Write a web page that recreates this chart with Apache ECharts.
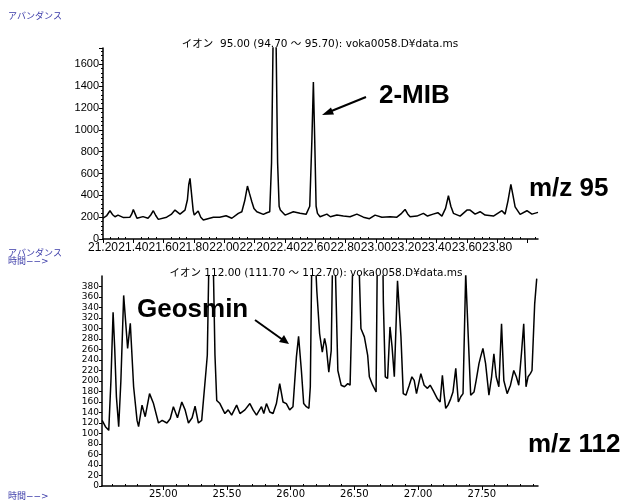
<!DOCTYPE html>
<html><head><meta charset="utf-8">
<script src="https://cdn.jsdelivr.net/npm/echarts@6/dist/echarts.min.js"></script>
<style>html,body{margin:0;padding:0;background:#fff}#c{width:630px;height:504px}</style>
</head><body><div id="c"></div>
<script>
// ---- m/z 95 chromatogram (top) ----
var topTime = [21.200,21.225,21.246,21.262,21.279,21.299,21.332,21.378,21.390,21.400,21.412,21.424,21.464,21.497,21.515,21.532,21.548,21.565,21.620,21.650,
21.675,21.708,21.741,21.757,21.766,21.774,21.783,21.795,21.802,21.828,21.845,21.862,21.928,21.970,22.012,22.050,22.093,22.116,22.135,22.153,
22.166,22.182,22.196,22.215,22.258,22.281,22.300,22.312,22.322,22.332,22.342,22.352,22.362,22.370,22.401,22.456,22.500,22.540,22.564,22.578,
22.588,22.597,22.606,22.615,22.632,22.677,22.700,22.743,22.786,22.830,22.875,22.918,22.958,22.995,23.040,23.094,23.139,23.170,23.193,23.210,
23.226,23.271,23.314,23.341,23.378,23.409,23.436,23.460,23.479,23.495,23.512,23.556,23.601,23.622,23.655,23.688,23.721,23.776,23.832,23.853,
23.872,23.891,23.905,23.919,23.952,23.997,24.030,24.070];
var topAbund = [190,215,259,225,204,219,198,200,230,271,230,190,205,190,220,259,215,180,200,225,
265,228,265,360,500,555,430,260,219,256,200,174,200,200,213,190,235,250,350,485,
420,341,280,250,226,241,250,700,1800,2600,1800,700,300,265,219,250,235,226,300,900,
1438,900,300,235,204,228,204,219,210,204,228,200,186,219,200,204,200,235,271,230,
204,210,235,210,228,241,210,280,396,300,235,210,265,265,228,250,219,210,259,228,
350,500,400,295,226,259,228,244];

// ---- m/z 112 chromatogram (bottom) ----
var botTime = [24.521,24.547,24.573,24.590,24.607,24.620,24.633,24.651,24.668,24.690,24.721,24.742,24.768,24.795,24.807,24.834,24.859,24.893,24.924,24.963,
24.992,25.029,25.055,25.080,25.112,25.146,25.172,25.198,25.227,25.250,25.276,25.302,25.336,25.346,25.360,25.375,25.391,25.406,25.420,25.445,
25.484,25.510,25.537,25.576,25.602,25.641,25.680,25.705,25.732,25.771,25.789,25.810,25.836,25.862,25.888,25.914,25.940,25.966,25.992,26.018,
26.045,26.062,26.084,26.102,26.123,26.143,26.154,26.165,26.174,26.185,26.205,26.227,26.248,26.266,26.279,26.299,26.318,26.328,26.338,26.350,
26.370,26.396,26.422,26.448,26.466,26.477,26.492,26.523,26.539,26.551,26.578,26.604,26.617,26.643,26.670,26.680,26.691,26.703,26.715,26.727,
26.742,26.760,26.779,26.795,26.813,26.838,26.865,26.883,26.904,26.930,26.951,26.969,26.987,27.021,27.047,27.073,27.094,27.117,27.151,27.172,
27.190,27.203,27.216,27.234,27.255,27.273,27.295,27.315,27.334,27.352,27.373,27.393,27.412,27.438,27.455,27.477,27.490,27.508,27.529,27.555,
27.576,27.594,27.612,27.633,27.654,27.672,27.698,27.724,27.750,27.770,27.789,27.810,27.828,27.846,27.862,27.880,27.893,27.914,27.930];
var botAbund = [125,113,106,200,331,260,170,113,200,363,262,310,189,125,113,154,132,176,157,120,
125,120,128,151,130,160,145,120,130,152,120,125,220,249,450,600,450,250,163,157,
138,145,135,154,138,145,157,145,135,151,138,157,141,138,157,195,160,157,145,151,
246,285,220,157,151,148,189,420,550,480,372,290,255,281,266,217,258,420,550,420,
220,192,189,195,192,300,500,500,400,300,284,249,208,192,179,450,600,450,600,350,
208,205,303,266,208,391,284,176,173,192,208,201,176,214,192,186,192,182,166,160,
211,176,148,154,166,179,224,160,170,176,405,284,173,179,201,233,246,262,233,173,
208,252,208,189,309,201,176,192,220,208,192,252,309,189,208,214,220,347,395];

// ---- axis tick labels ----
var topXLabels = [21.2,21.4,21.6,21.8,22.0,22.2,22.4,22.6,22.8,23.0,23.2,23.4,23.6,23.8];
var topXMajor = [21.2,21.4,21.6,21.8,22.0,22.2,22.4,22.6,22.8,23.0,23.2,23.4,23.6,23.8,24.0];
var topXMinor = [21.25,21.3,21.35,21.45,21.5,21.55,21.65,21.7,21.75,21.85,21.9,21.95,22.05,22.1,22.15,22.25,22.3,22.35,22.45,22.5,22.55,22.65,22.7,22.75,22.85,22.9,22.95,23.05,23.1,23.15,23.25,23.3,23.35,23.45,23.5,23.55,23.65,23.7,23.75,23.85,23.9,23.95,24.05];
var botXLabels = [25.0,25.5,26.0,26.5,27.0,27.5];
var botXMinor = [24.6,24.7,24.8,24.9,25.1,25.2,25.3,25.4,25.6,25.7,25.8,25.9,26.1,26.2,26.3,26.4,26.6,26.7,26.8,26.9,27.1,27.2,27.3,27.4,27.6,27.7,27.8,27.9];

function zip(a,b){var r=[];for(var i=0;i<a.length;i++)r.push([a[i],b[i]]);return r;}

var chart = echarts.init(document.getElementById('c'), null, {renderer:'canvas'});
var axisCol = '#000';
var blue = '#3a3aa8';
var jp = 'DejaVu Sans, Noto Sans CJK JP, sans-serif';

function xMain(grid,min,max,labels,major,fs,ff){
  return {type:'value',gridIndex:grid,min:min,max:max,
    axisLine:{onZero:false,lineStyle:{color:axisCol,width:1.5}},
    axisTick:{customValues:major,length:4,lineStyle:{color:axisCol,width:1}},
    axisLabel:{customValues:labels,color:'#000',fontSize:fs,fontFamily:ff,margin:3,
      formatter:function(v){return v.toFixed(2);}},
    splitLine:{show:false}};
}
function xMinor(grid,min,max,minor){
  return {type:'value',gridIndex:grid,min:min,max:max,
    axisLine:{show:false},
    axisTick:{customValues:minor,length:2,lineStyle:{color:axisCol,width:1}},
    axisLabel:{show:false},splitLine:{show:false}};
}
function plain(v){return String(v);}

var option = {
  animation:false,
  backgroundColor:'#fff',
  grid:[
    {left:103,top:48,width:435,height:191,containLabel:false},
    {left:102,top:276,width:436,height:210,containLabel:false}
  ],
  xAxis:[
    xMain(0,21.2,24.07,topXLabels,topXMajor,12,'Liberation Sans, Arial, sans-serif'),
    xMinor(0,21.2,24.07,topXMinor),
    xMain(1,24.52,27.94,botXLabels,botXLabels,10,'DejaVu Sans, sans-serif'),
    xMinor(1,24.52,27.94,botXMinor)
  ],
  yAxis:[
    {type:'value',gridIndex:0,min:0,max:1750,interval:200,
      axisLine:{show:true,lineStyle:{color:axisCol,width:1.5}},
      axisTick:{show:true,length:4,lineStyle:{color:axisCol}},
      minorTick:{show:true,splitNumber:5,length:2,lineStyle:{color:axisCol}},
      axisLabel:{showMaxLabel:false,color:'#000',fontSize:11,fontFamily:'Liberation Sans, Arial, sans-serif',margin:4,formatter:plain},
      splitLine:{show:false}},
    {type:'value',gridIndex:1,min:0,max:400,interval:20,
      axisLine:{show:true,lineStyle:{color:axisCol,width:1.5}},
      axisTick:{show:true,length:3,lineStyle:{color:axisCol}},
      axisLabel:{showMaxLabel:false,color:'#000',fontSize:9,fontFamily:'DejaVu Sans, sans-serif',margin:3,formatter:plain},
      splitLine:{show:false}}
  ],
  series:[
    {type:'line',xAxisIndex:0,yAxisIndex:0,data:zip(topTime,topAbund),showSymbol:false,clip:true,
      lineStyle:{color:'#000',width:1.5},silent:true},
    {type:'line',xAxisIndex:2,yAxisIndex:1,data:zip(botTime,botAbund),showSymbol:false,clip:true,
      lineStyle:{color:'#000',width:1.5},silent:true}
  ],
  graphic:[
    {type:'text',left:8,top:12,style:{text:'アバンダンス',fill:blue,font:'9px '+jp}},
    {type:'text',x:320,y:44,style:{text:'イオン  95.00 (94.70 〜 95.70): voka0058.D¥data.ms',fill:'#000',font:'10.5px '+jp,align:'center',verticalAlign:'middle'}},
    {type:'text',left:8,top:249,style:{text:'アバンダンス\n時間−−>',fill:blue,font:'9px '+jp,lineHeight:8}},
    {type:'text',x:316,y:273,style:{text:'イオン 112.00 (111.70 〜 112.70): voka0058.D¥data.ms',fill:'#000',font:'10.5px '+jp,align:'center',verticalAlign:'middle'}},
    {type:'text',left:8,top:492,style:{text:'時間−−>',fill:blue,font:'9px '+jp}},
    {type:'text',x:379,y:96,style:{text:'2-MIB',fill:'#000',font:'bold 26px Liberation Sans, Arial, sans-serif',verticalAlign:'middle'}},
    {type:'text',x:529,y:189,style:{text:'m/z 95',fill:'#000',font:'bold 26px Liberation Sans, Arial, sans-serif',verticalAlign:'middle'}},
    {type:'text',x:137,y:310,style:{text:'Geosmin',fill:'#000',font:'bold 26px Liberation Sans, Arial, sans-serif',verticalAlign:'middle'}},
    {type:'text',x:528,y:445,style:{text:'m/z 112',fill:'#000',font:'bold 26px Liberation Sans, Arial, sans-serif',verticalAlign:'middle'}},
    {type:'line',shape:{x1:366,y1:97,x2:329,y2:112},style:{stroke:'#000',lineWidth:2}},
    {type:'polygon',shape:{points:[[322,115],[331,107.5],[334,114.5]]},style:{fill:'#000'}},
    {type:'line',shape:{x1:255,y1:320,x2:283,y2:340},style:{stroke:'#000',lineWidth:2}},
    {type:'polygon',shape:{points:[[289,344],[279,342],[284,335]]},style:{fill:'#000'}}
  ]
};
chart.setOption(option);
</script></body></html>
